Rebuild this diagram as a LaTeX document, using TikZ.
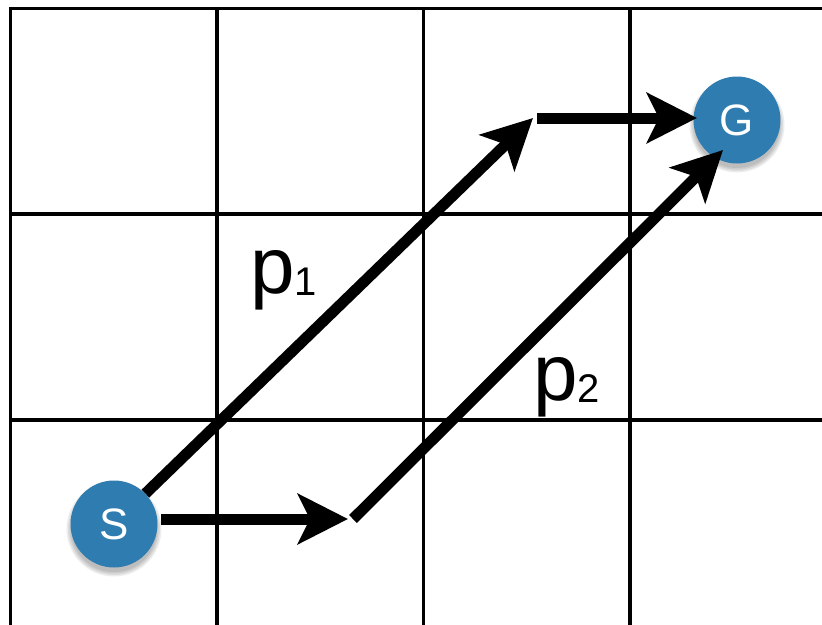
\documentclass[tikz,border=0pt]{standalone}
\usepackage{fontspec}
\setmainfont{Liberation Sans}
\usetikzlibrary{arrows.meta}
\definecolor{nodeblue}{RGB}{46,124,176}
\tikzset{
  gridline/.style={line width=3.5pt, line cap=rect},
  statenode/.style={circle, fill=nodeblue, minimum size=87pt, inner sep=0pt, text=white,
    font=\fontsize{44}{44}\selectfont},
  patharrow/.style={line width=11pt, -{Stealth[length=50pt, width=50pt, inset=12pt]}},
  plabel/.style={inner sep=0pt, anchor=base west},
  softshadow/.style={fill=black, opacity=0.07}
}
\newcommand{\plab}[1]{{\fontsize{80}{80}\selectfont p}{\fontsize{40}{40}\selectfont\raisebox{-2pt}{#1}}}
\begin{document}
\begin{tikzpicture}[x=1pt,y=-1pt]
\useasboundingbox (0,0) rectangle (822,624);
\fill[white] (0,0) rectangle (822,624);
% grid
\foreach \x in {10.5,217,423.5,630} \draw[gridline] (\x,8.5) -- (\x,640);
\foreach \y in {8.5,214,420} \draw[gridline] (10.5,\y) -- (840,\y);
% coordinates
\coordinate (a1) at (533,118);
\coordinate (a2) at (537,118);
\coordinate (a3) at (697,118);
\coordinate (b1) at (348,519);
\coordinate (b2) at (353,519);
\coordinate (b3) at (723,150);
\coordinate (s0) at (161,519);
% soft shadows
\foreach \r in {43,44.5,46,47.5} {
  \fill[softshadow] (114,529) circle (\r pt);
  \fill[softshadow] (737,125) circle (\r pt);
}
% nodes
\node[statenode] (S) at (114,524) {S};
\node[statenode] (G) at (737,120) {G};
% arrows
\draw[patharrow] (S) -- (a1);
\draw[patharrow] (a2) -- (a3);
\draw[patharrow] (s0) -- (b1);
\draw[patharrow] (b2) -- (b3);
% labels
\node[plabel] (p1) at (250,293) {\plab{1}};
\node[plabel] (p2) at (533,400) {\plab{2}};
\end{tikzpicture}
\end{document}
